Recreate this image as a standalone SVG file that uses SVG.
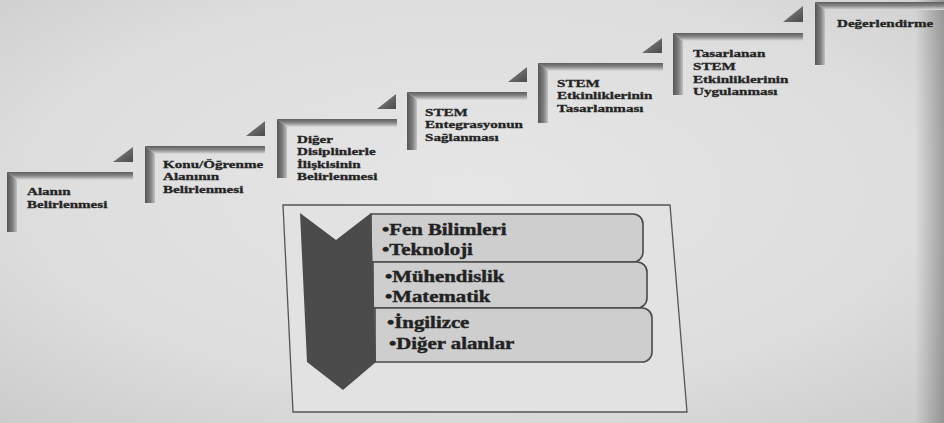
<svg xmlns="http://www.w3.org/2000/svg" width="944" height="423" viewBox="0 0 944 423">
  <defs>
    <radialGradient id="paper" cx="0.5" cy="0.45" r="0.8">
      <stop offset="0" stop-color="#e6e6e6"/>
      <stop offset="0.6" stop-color="#dddddd"/>
      <stop offset="1" stop-color="#c8c8c8"/>
    </radialGradient>
    <linearGradient id="edge" x1="0" y1="0" x2="1" y2="0">
      <stop offset="0" stop-color="#000" stop-opacity="0"/>
      <stop offset="1" stop-color="#000" stop-opacity="0.28"/>
    </linearGradient>
    <!-- bevelled frame bars -->
    <linearGradient id="barH" x1="0" y1="0" x2="0" y2="1">
      <stop offset="0" stop-color="#5e5e5e"/>
      <stop offset="0.45" stop-color="#858585"/>
      <stop offset="0.75" stop-color="#b4b4b4"/>
      <stop offset="1" stop-color="#dedede"/>
    </linearGradient>
    <linearGradient id="barV" x1="0" y1="0" x2="1" y2="0">
      <stop offset="0" stop-color="#555"/>
      <stop offset="0.55" stop-color="#7e7e7e"/>
      <stop offset="1" stop-color="#c2c2c2"/>
    </linearGradient>
    <linearGradient id="tri" x1="0" y1="0" x2="1" y2="1">
      <stop offset="0" stop-color="#8a8a8a"/>
      <stop offset="1" stop-color="#4a4a4a"/>
    </linearGradient>
  </defs>
  <style>
    .bh { fill: url(#barH); }
    .bv { fill: url(#barV); }
    .tri { fill: url(#tri); }
    text { font-family: 'Liberation Serif', 'DejaVu Serif', serif; font-weight: 700; }
    .lbl { font-size: 11px; fill: #242424; stroke: #242424; stroke-width: 0.3; }
    .item { font-size: 16px; fill: #222; stroke: #222; stroke-width: 0.4; }
    .row { fill: #cecece; stroke: #4a4a4a; stroke-width: 1.6; }
    .frame { fill: #e2e2e2; stroke: #555; stroke-width: 1.3; }
    .chev { fill: #4b4b4b; }
  </style>

  <rect width="944" height="423" fill="url(#paper)"/>
  <rect x="915" width="29" height="423" fill="url(#edge)"/>

  <!-- staircase steps -->
  <g id="step-1">
    <polygon class="bh" points="7,172 133,172 133,180 17,180"/>
    <polygon class="bv" points="7,172 17,180 17,232 7,232"/>
    <text class="lbl" font-family="Liberation Serif, serif" transform="translate(27,195) scale(1.37,1)"><tspan x="0" y="0">Alanın</tspan><tspan x="0" dy="13">Belirlenmesi</tspan></text>
  </g>
  <g id="step-2">
    <polygon class="bh" points="145,146 265,146 265,154 155,154"/>
    <polygon class="bv" points="145,146 155,154 155,203 145,203"/>
    <text class="lbl" font-family="Liberation Serif, serif" transform="translate(163,168) scale(1.37,1)"><tspan x="0" y="0">Konu/Öğrenme</tspan><tspan x="0" dy="12.5">Alanının</tspan><tspan x="0" dy="12.5">Belirlenmesi</tspan></text>
  </g>
  <g id="step-3">
    <polygon class="bh" points="277,119 397,119 397,127 287,127"/>
    <polygon class="bv" points="277,119 287,127 287,178 277,178"/>
    <text class="lbl" font-family="Liberation Serif, serif" transform="translate(297,143) scale(1.37,1)"><tspan x="0" y="0">Diğer</tspan><tspan x="0" dy="12.5">Disiplinlerle</tspan><tspan x="0" dy="12.5">İlişkisinin</tspan><tspan x="0" dy="12.5">Belirlenmesi</tspan></text>
  </g>
  <g id="step-4">
    <polygon class="bh" points="407,92 527,92 527,100 417,100"/>
    <polygon class="bv" points="407,92 417,100 417,150 407,150"/>
    <text class="lbl" font-family="Liberation Serif, serif" transform="translate(425,116) scale(1.37,1)"><tspan x="0" y="0">STEM</tspan><tspan x="0" dy="12.5">Entegrasyonun</tspan><tspan x="0" dy="12.5">Sağlanması</tspan></text>
  </g>
  <g id="step-5">
    <polygon class="bh" points="538,63 663,63 663,71 548,71"/>
    <polygon class="bv" points="538,63 548,71 548,123 538,123"/>
    <text class="lbl" font-family="Liberation Serif, serif" transform="translate(557,87) scale(1.37,1)"><tspan x="0" y="0">STEM</tspan><tspan x="0" dy="12.5">Etkinliklerinin</tspan><tspan x="0" dy="12.5">Tasarlanması</tspan></text>
  </g>
  <g id="step-6">
    <polygon class="bh" points="673,33 803,33 803,41 683,41"/>
    <polygon class="bv" points="673,33 683,41 683,95 673,95"/>
    <text class="lbl" font-family="Liberation Serif, serif" transform="translate(693,57) scale(1.37,1)"><tspan x="0" y="0">Tasarlanan</tspan><tspan x="0" dy="12.8">STEM</tspan><tspan x="0" dy="12.8">Etkinliklerinin</tspan><tspan x="0" dy="12.8">Uygulanması</tspan></text>
  </g>
  <g id="step-7">
    <polygon class="bh" points="815,2 944,2 944,10 825,10"/>
    <polygon class="bv" points="815,2 825,10 825,65 815,65"/>
    <text class="lbl" font-family="Liberation Serif, serif" transform="translate(837,27) scale(1.37,1)">Değerlendirme</text>
  </g>

  <!-- small arrow wedges between the steps -->
  <g id="connectors">
    <polygon class="tri" points="113,162 133,162 133,147"/>
    <polygon class="tri" points="246,136 265,136 265,121"/>
    <polygon class="tri" points="377,109 396,109 396,94"/>
    <polygon class="tri" points="508,82 527,82 527,67"/>
    <polygon class="tri" points="642,53 662,53 662,38"/>
    <polygon class="tri" points="783,22 803,22 803,6"/>
  </g>

  <!-- STEM disciplines panel -->
  <g id="disciplines">
    <polygon class="frame" points="283,205 670,205 687,412 293,412"/>
    <path class="row" d="M371,214 H633 A10,10 0 0 1 643,224 V252 A10,10 0 0 1 633,262 H371 Z"/>
    <path class="row" d="M373,262 H637 A10,10 0 0 1 647,272 V298 A10,10 0 0 1 637,308 H373 Z"/>
    <path class="row" d="M375,308 H642 A10,10 0 0 1 652,318 V352 A10,10 0 0 1 642,362 H375 Z"/>
    <polygon class="chev" points="300,213 336,240 371,213 376,362 343,390 307,362"/>
    <text class="item" font-family="Liberation Serif, serif" transform="translate(382,235) scale(1.3,1)">•Fen Bilimleri</text>
    <text class="item" font-family="Liberation Serif, serif" transform="translate(382,255) scale(1.3,1)">•Teknoloji</text>
    <text class="item" font-family="Liberation Serif, serif" transform="translate(385,282) scale(1.3,1)">•Mühendislik</text>
    <text class="item" font-family="Liberation Serif, serif" transform="translate(385,302) scale(1.3,1)">•Matematik</text>
    <text class="item" font-family="Liberation Serif, serif" transform="translate(387,328) scale(1.3,1)">•İngilizce</text>
    <text class="item" font-family="Liberation Serif, serif" transform="translate(389,349) scale(1.3,1)">•Diğer alanlar</text>
  </g>
</svg>
